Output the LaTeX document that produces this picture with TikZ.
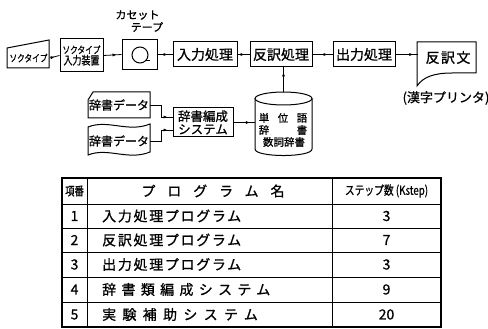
\documentclass[tikz,border=0pt]{standalone}
\usepackage{fontspec}
\setmainfont[FakeBold=0.8]{Noto Sans CJK JP}
\newfontfamily\jp[FakeBold=0.8]{Noto Sans CJK JP}
\newfontfamily\jpc[FakeBold=0.8,FakeStretch=0.78]{Noto Sans CJK JP}
\usetikzlibrary{arrows.meta,decorations.markings}
\newcommand{\lsp}[2]{{\addfontfeature{LetterSpace=#1}#2}}
\begin{document}
\begin{tikzpicture}[x=1pt,y=-1pt,
  ol/.style={line width=1pt},
  boxn/.style={draw,line width=1pt,inner sep=0pt,align=center},
  ghost/.style={inner sep=0pt,align=center},
  flow/.style={line width=0.8pt,postaction={decorate},
    decoration={markings,mark=at position -5pt with {\arrow{Latex[length=4pt,width=3.2pt]}}}},
  tl/.style={line width=0.9pt},
  cell/.style={inner sep=0pt,font=\jp\fontsize{14}{15}\selectfont},
]
\useasboundingbox (0,0) rectangle (488,329);
% ---- top row ----
\draw[ol] (7,48) -- (49,40) -- (49,68) -- (7,68) -- cycle;
\node[ghost,minimum width=42pt,minimum height=28pt,font=\jpc\fontsize{9.8}{11}\selectfont] (sok) at (28.5,58) {ソクタイプ};
\node[boxn,minimum width=43pt,minimum height=33pt] (sokin) at (81.5,55.5) {{\jpc\fontsize{9.8}{11}\selectfont ソクタイプ}\\[-1pt]{\jpc\fontsize{11.5}{12}\selectfont 入力装置}};
\node[boxn,minimum width=35pt,minimum height=30pt] (cas) at (139.5,54.5) {};
\draw[line width=1pt] (140,55) circle (8pt);
\draw[line width=1pt] (145,61) -- (150,61);
\node[ghost,font=\fontsize{11}{12}\selectfont] (casa) at (137.5,15) {カセット};
\node[ghost,font=\fontsize{11}{12}\selectfont] (casb) at (147,27) {テープ};
\node[boxn,minimum width=64pt,minimum height=25pt,font=\fontsize{14}{15}\selectfont] (inp) at (205,54.5) {入力処理};
\node[boxn,minimum width=62pt,minimum height=25pt,font=\fontsize{14}{15}\selectfont] (hon) at (281,54.5) {反訳処理};
\node[boxn,minimum width=62pt,minimum height=25pt,font=\fontsize{14}{15}\selectfont] (out) at (364,54.5) {出力処理};
\draw[ol] (417,42) -- (476,42) -- (476,73) -- (452,73) .. controls (434,73) and (423,77) .. (417,86) -- cycle;
\node[ghost,minimum width=59pt,minimum height=31pt,font=\fontsize{14}{15}\selectfont] (doc) at (448,57.5) {\lsp{10}{反訳文}};
\node[ghost,font=\fontsize{13}{14}\selectfont] (kanji) at (446,98) {(漢字プリンタ)};
% connectors top row
\draw[flow] (sok.east) -- (sokin.west);
\draw[flow] (sokin.east) -- (cas.west);
\draw[flow] (cas.east) -- (inp.west);
\draw[flow] (inp.east) -- (hon.west);
\draw[flow] (hon.east) -- (out.west);
\draw[flow] (out.east) -- (doc.west |- out.east);
% ---- dictionary part ----
\draw[ol] (93,92) -- (150,92) -- (150,118) -- (88,118) -- (88,100) -- cycle;
\node[ghost,minimum width=62pt,minimum height=26pt,font=\fontsize{12}{13}\selectfont] (d1) at (119,105) {辞書データ};
\draw[ol] (88,127) .. controls (108,119) and (128,133) .. (150,124) -- (150,152) .. controls (128,161) and (108,147) .. (88,155) -- cycle;
\node[ghost,minimum width=62pt,minimum height=26pt,font=\fontsize{12}{13}\selectfont] (d2) at (119,141) {辞書データ};
\node[boxn,minimum width=60pt,minimum height=29pt,font=\fontsize{12.5}{13}\selectfont] (sys) at (203,122.5) {辞書編成\\システム};
\coordinate (j1) at (161,117);
\coordinate (j2) at (161,130);
\draw[flow] (d1.east) -| (j1) -- (j1 -| sys.west);
\draw[flow] (d2.east) -| (j2) -- (j2 -| sys.west);
% cylinder
\draw[ol] (283.5,98.5) ellipse (28.5pt and 6.5pt);
\draw[ol] (255,98.5) -- (255,149) .. controls (255,157.7) and (312,157.7) .. (312,149) -- (312,98.5);
\node[ghost,minimum width=57pt,minimum height=63pt] (cyl) at (283.5,123.5) {};
\begin{scope}[font=\fontsize{10.5}{11}\selectfont]
\node[ghost] (c1) at (264,118) {単};
\node[ghost] (c2) at (283,118) {位};
\node[ghost] (c3) at (302,118) {語};
\node[ghost] (c4) at (264,130) {辞};
\node[ghost] (c5) at (302,130) {書};
\node[ghost] (c6) at (284,142) {数詞辞書};
\end{scope}
\draw[flow] (sys.east) -- (sys.east -| cyl.west);
\draw[flow] (cyl.north) -- (cyl.north |- hon.south);
% ---- table ----
\draw[line width=1.2pt] (62,178) rectangle (441,327);
\foreach \yy in {204,228,252,277,302} \draw[tl] (62,\yy) -- (441,\yy);
\draw[tl] (87,178) -- (87,327);
\draw[tl] (332,178) -- (332,327);
\node[ghost,font=\jpc\fontsize{12}{13}\selectfont] (h1) at (74.5,191) {項番};
\node[ghost,font=\fontsize{14}{15}\selectfont] (h2) at (213,191) {\lsp{85}{プログラム名}};
\node[ghost,font=\jpc\fontsize{12.5}{13}\selectfont] (h3) at (386.5,191) {ステップ数 (Kstep)};
\node[cell] (n1) at (74.5,216) {1};
\node[cell] (n2) at (74.5,240) {2};
\node[cell] (n3) at (74.5,264.5) {3};
\node[cell] (n4) at (74.5,289.5) {4};
\node[cell] (n5) at (74.5,314.5) {5};
\node[cell,anchor=west] (p1) at (102,216) {\lsp{12}{入力処理プログラム}};
\node[cell,anchor=west] (p2) at (102,240) {\lsp{12}{反訳処理プログラム}};
\node[cell,anchor=west] (p3) at (102,264.5) {\lsp{12}{出力処理プログラム}};
\node[cell,anchor=west] (p4) at (102,289.5) {\lsp{38}{辞書類編成システム}};
\node[cell,anchor=west] (p5) at (102,314.5) {\lsp{45}{実験補助システム}};
\node[cell] (s1) at (386.5,216) {3};
\node[cell] (s2) at (386.5,240) {7};
\node[cell] (s3) at (386.5,264.5) {3};
\node[cell] (s4) at (386.5,289.5) {9};
\node[cell] (s5) at (386.5,314.5) {20};
\end{tikzpicture}
\end{document}
